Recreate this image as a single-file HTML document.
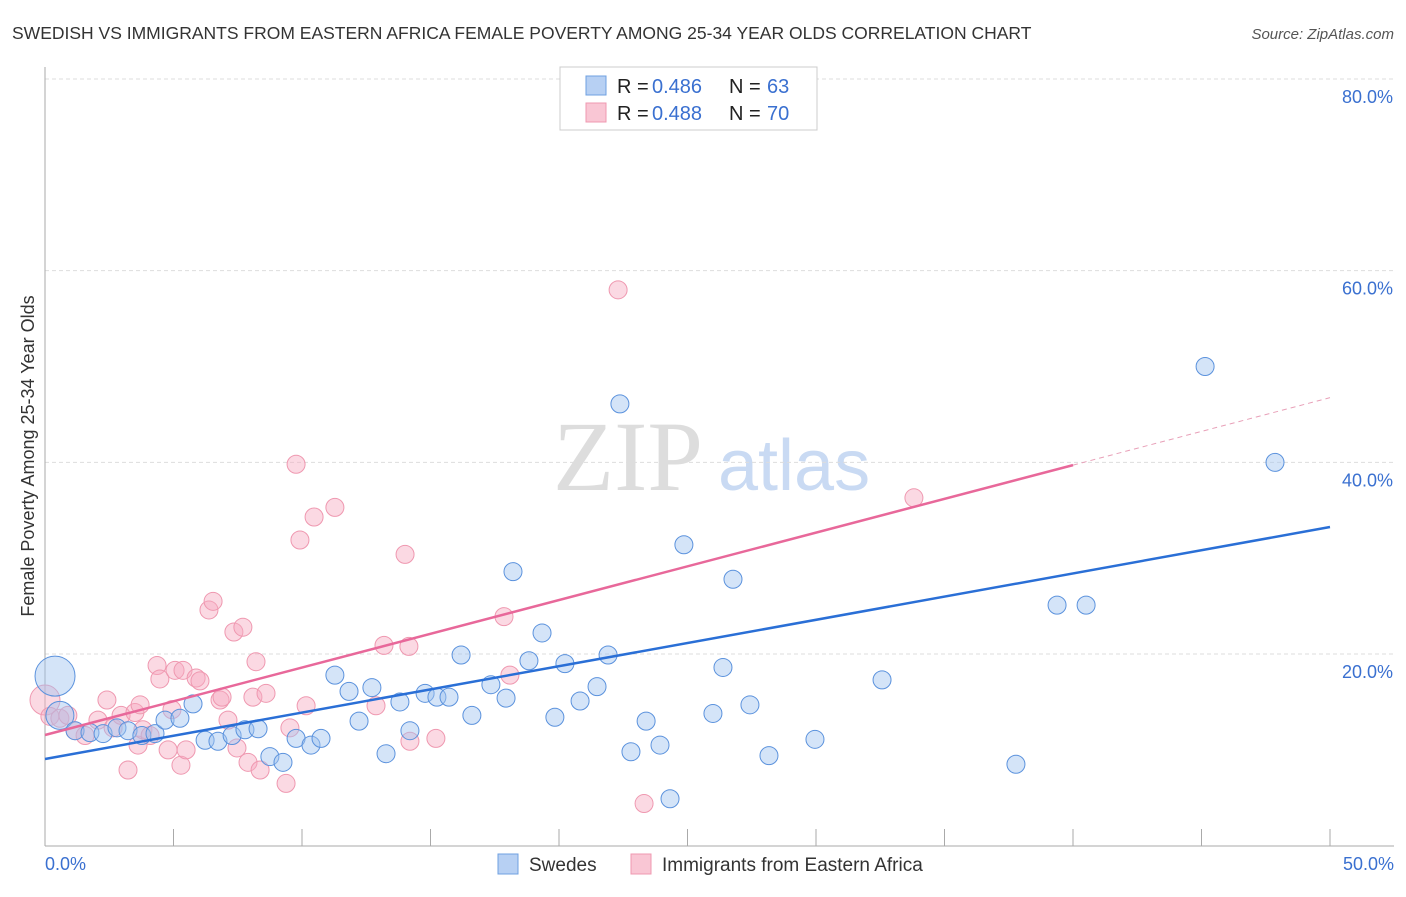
<!DOCTYPE html>
<html><head><meta charset="utf-8"><style>
body{margin:0;background:#fff;font-family:"Liberation Sans",sans-serif;}
</style></head><body>
<svg id="chart" width="1406" height="892" font-family="Liberation Sans, sans-serif">
<text x="12" y="39" font-size="17.5" fill="#333">SWEDISH VS IMMIGRANTS FROM EASTERN AFRICA FEMALE POVERTY AMONG 25-34 YEAR OLDS CORRELATION CHART</text>
<text x="1394" y="39" font-size="15" fill="#555" font-style="italic" text-anchor="end">Source: ZipAtlas.com</text>
<text transform="translate(34,456) rotate(-90)" font-size="18" fill="#333" text-anchor="middle">Female Poverty Among 25-34 Year Olds</text>
<text x="553" y="490" font-size="100" fill="#ddd" style="font-family:'Liberation Serif',serif">ZIP</text>
<text x="718" y="490" font-size="72" fill="#c9daf3">atlas</text>
<g id="grid"></g><g id="pts"></g><g id="lines"></g>
<g>
<rect x="560" y="67" width="257" height="63" fill="#fff" stroke="#ccc"/>
<rect x="586" y="76" width="20" height="19" fill="#b7d0f3" stroke="#6fa0e0"/>
<rect x="586" y="103" width="20" height="19" fill="#f9c6d4" stroke="#ef98b0"/>
<text y="93" font-size="20" fill="#222"><tspan x="617">R =</tspan><tspan x="652" fill="#3a70d0">0.486</tspan><tspan x="729">N =</tspan><tspan x="767" fill="#3a70d0">63</tspan></text>
<text y="120" font-size="20" fill="#222"><tspan x="617">R =</tspan><tspan x="652" fill="#3a70d0">0.488</tspan><tspan x="729">N =</tspan><tspan x="767" fill="#3a70d0">70</tspan></text>
</g>
<g>
<rect x="498" y="854" width="20" height="20" fill="#b7d0f3" stroke="#6fa0e0"/>
<text x="529" y="871" font-size="19" fill="#333">Swedes</text>
<rect x="631" y="854" width="20" height="20" fill="#f9c6d4" stroke="#ef98b0"/>
<text x="662" y="871" font-size="19" fill="#333">Immigrants from Eastern Africa</text>
</g>
<text x="45" y="870" font-size="18" fill="#3a70d0">0.0%</text>
<text x="1394" y="870" font-size="18" fill="#3a70d0" text-anchor="end">50.0%</text>
</svg>
<script>
const yTicks=[20,40,60,80];
const yTickLabels=["20.0%","40.0%","60.0%","80.0%"];
const xTicks=[0,5,10,15,20,25,30,35,40,45,50];
const swedesX=[0.39,0.58,1.17,1.75,2.26,2.80,3.23,3.77,4.28,4.67,5.25,5.76,6.23,6.73,7.28,7.78,8.29,8.75,9.26,9.77,10.35,10.74,11.28,11.83,12.22,12.72,13.27,13.81,14.20,14.79,15.25,15.72,16.19,16.61,17.35,17.94,18.21,18.83,19.34,19.84,20.23,20.82,21.48,21.91,22.37,22.80,23.39,23.93,24.32,24.86,25.99,26.38,26.77,27.43,28.17,29.96,32.57,37.78,39.38,40.51,45.14,47.86];
const swedesY=[17.7,13.6,12.0,11.8,11.7,12.3,12.0,11.5,11.7,13.1,13.3,14.8,11.0,10.9,11.5,12.1,12.2,9.3,8.7,11.2,10.5,11.2,17.8,16.1,13.0,16.5,9.6,15.0,12.0,15.9,15.5,15.5,19.9,13.6,16.8,15.4,28.6,19.3,22.2,13.4,19.0,15.1,16.6,19.9,46.1,9.8,13.0,10.5,4.9,31.4,13.8,18.6,27.8,14.7,9.4,11.1,17.3,8.5,25.1,25.1,50.0,40.0];
const immX=[0,0.19,0.58,0.89,1.17,1.56,2.06,2.41,2.65,2.96,3.23,3.50,3.70,3.62,3.81,4.09,4.36,4.47,4.79,4.94,5.06,5.29,5.49,5.37,5.88,6.03,6.38,6.54,6.81,6.89,7.12,7.35,7.47,7.70,7.90,8.09,8.21,8.37,8.60,9.38,9.53,9.77,9.92,10.16,10.47,11.28,12.88,13.19,14.01,14.16,14.20,15.21,17.86,18.09,22.30,23.31,33.81];
const immY=[15.2,13.5,13.3,13.6,12.0,11.5,13.1,15.2,12.3,13.6,7.9,13.9,14.7,10.5,12.1,11.5,18.8,17.4,10.0,14.2,18.3,8.4,10.0,18.3,17.5,17.2,24.6,25.5,15.2,15.5,13.1,22.3,10.2,22.8,8.7,15.5,19.2,7.9,15.9,6.5,12.3,39.8,31.9,14.6,34.3,35.3,14.6,20.9,30.4,20.8,10.9,11.2,23.9,17.8,58.0,4.4,36.3];
const trendSlope=[0.484,0.704];
const trendIntercept=[9.05,11.55];
const X0=45,X1=1330,Y0=845.7,Y80=79;
const sx=v=>X0+(X1-X0)*v/50;
const sy=v=>Y0-(Y0-Y80)*v/80;
const NS="http://www.w3.org/2000/svg";
function mk(tag,attrs,parent){const e=document.createElementNS(NS,tag);for(const k in attrs)e.setAttribute(k,attrs[k]);document.getElementById(parent).appendChild(e);return e;}
yTicks.forEach((t,i)=>{
 const g=mk('line',{x1:45,x2:1394,y1:sy(t),y2:sy(t),stroke:'#ddd','stroke-dasharray':'4,3'},'grid');
 
 
 const tx=mk('text',{x:1393,y:sy(t)+24,'font-size':18,fill:'#3a70d0','text-anchor':'end'},'grid');
 tx.textContent=yTickLabels[i];
 
 
});
const ax=mk('line',{x1:45,x2:45,y1:67,y2:846,stroke:'#aaa'},'grid');


const bx=mk('line',{x1:45,x2:1394,y1:846,y2:846,stroke:'#aaa'},'grid');


xTicks.forEach(t=>{
 const l=mk('line',{x1:sx(t),x2:sx(t),y1:829,y2:846,stroke:'#aaa'},'grid');
 
 
});
immX.forEach((x,i)=>{
 const c=mk('circle',{cx:sx(x),cy:sy(immY[i]),r:i==0?15:9,fill:'rgba(246,170,192,0.45)',stroke:'#ef98b0','stroke-width':1},'pts');
 
 
});
swedesX.forEach((x,i)=>{
 const c=mk('circle',{cx:sx(x),cy:sy(swedesY[i]),r:i==0?20:(i==1?14:9),fill:'rgba(160,195,240,0.45)',stroke:'#5b92dd','stroke-width':1},'pts');
 
 
});
const f=(k,x)=>trendIntercept[k]+trendSlope[k]*x;
const b=mk('line',{x1:sx(0),y1:sy(f(0,0)),x2:sx(50),y2:sy(f(0,50)),stroke:'#2a6fd6','stroke-width':2.5},'lines');


const p=mk('line',{x1:sx(0),y1:sy(f(1,0)),x2:sx(40),y2:sy(f(1,40)),stroke:'#e8689a','stroke-width':2.5},'lines');


const pd=mk('line',{x1:sx(40),y1:sy(f(1,40)),x2:sx(50),y2:sy(f(1,50)),stroke:'#e8a0b8','stroke-width':1,'stroke-dasharray':'5,4'},'lines');


</script>
</body></html>
